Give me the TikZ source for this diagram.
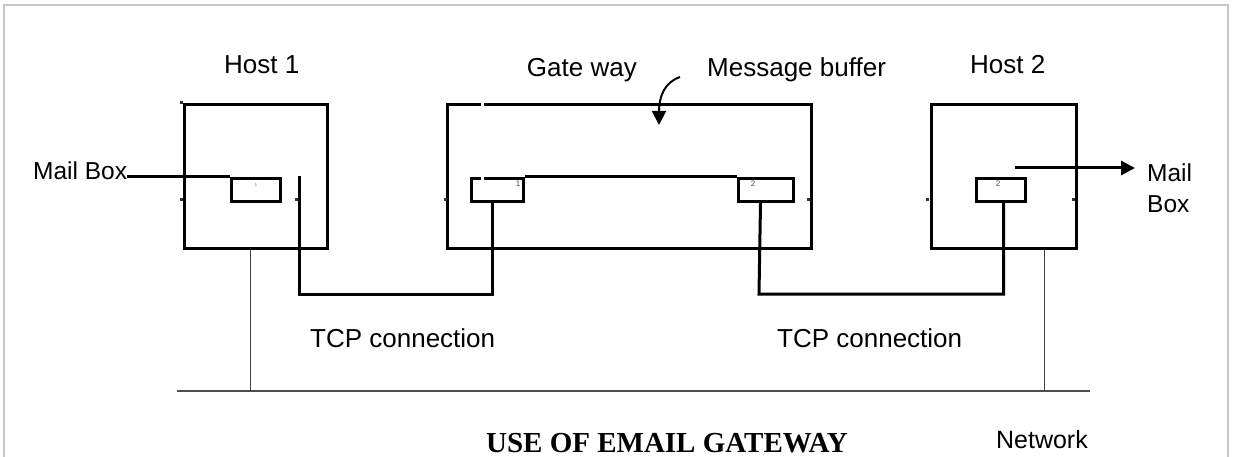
\documentclass[tikz,border=0pt]{standalone}
\usepackage{fontspec}
\setmainfont{Liberation Sans}
\newfontfamily\titlefont{Liberation Serif}
\usetikzlibrary{arrows.meta}
\begin{document}
\begin{tikzpicture}[x=1pt,y=-1pt,
  box/.style={draw,line width=3pt,inner sep=0pt},
  wire/.style={line width=3pt},
  lbl/.style={font=\fontsize{26}{30}\selectfont,inner sep=0pt},
  tiny/.style={font=\fontsize{8}{9}\selectfont,inner sep=0pt,text=black!70},
  net/.style={draw=black!75,line width=1.5pt},
  dot/.style={fill=black!80},
  tip/.style={-{Triangle[length=14pt,width=14pt]}}]
\useasboundingbox (0,0) rectangle (1234,457);
\fill[white] (0,0) rectangle (1234,457);
\draw[black!22,line width=2pt] (4,457) -- (4,5) -- (1228,5) -- (1228,457);

% boxes
\node[box,anchor=north west,minimum width=143pt,minimum height=144pt] (h1) at (183,103) {};
\node[box,anchor=north west,minimum width=364pt,minimum height=144pt] (gw) at (446,103) {};
\node[box,anchor=north west,minimum width=145pt,minimum height=144pt] (h2) at (930,103) {};

% small boxes
\node[box,anchor=north west,minimum width=49pt,minimum height=23pt] (m1) at (230,177) {};
\node[box,anchor=north west,minimum width=52pt,minimum height=23pt] (g1) at (470,177) {};
\node[box,anchor=north west,minimum width=55pt,minimum height=23pt] (g2) at (737,177) {};
\node[box,anchor=north west,minimum width=49pt,minimum height=23pt] (m2) at (975,177) {};
\node[tiny] (n1) at (256,185) {\fontsize{4}{4}\selectfont 1};
\node[tiny] (n2) at (518,184) {1};
\node[tiny] (n3) at (753,184) {2};
\node[tiny] (n4) at (998,184) {2};

% message buffer line between gateway ports
\draw[wire] (g1.north east) -- (g2.north west);
% small gaps in the gateway top lines
\fill[white] (481,99) rectangle (484,107);
\fill[white] (481,173) rectangle (484,181);

% labels
\node[lbl,anchor=base west] (host1) at (224,74) {Host 1};
\node[lbl,anchor=base east] (gate) at (637,77) {Gate way};
\node[lbl,anchor=base west] (msg) at (707,77) {Message buffer};
\node[lbl,anchor=base west] (host2) at (970,74) {Host 2};
\node[lbl,anchor=base west,font=\fontsize{24.5}{28}\selectfont] (mbl) at (33,180) {Mail Box};
\node[lbl,anchor=base west,font=\fontsize{24.5}{28}\selectfont] (mail) at (1147,182) {Mail};
\node[lbl,anchor=base west,font=\fontsize{24.5}{28}\selectfont] (box) at (1147,213) {Box};
\node[lbl,anchor=base west] (tcp1) at (310,347) {TCP connection};
\node[lbl,anchor=base west] (tcp2) at (777,347) {TCP connection};
\node[lbl,anchor=base east,font=\fontsize{25}{28}\selectfont] (netl) at (1088,448) {Network};
\node[inner sep=0pt,anchor=base,font=\titlefont\bfseries\fontsize{29}{32}\selectfont] (title) at (667,452) {USE OF EMAIL GATEWAY};

% mail box connector (host 1)
\draw[wire] (m1.north west) -- (m1.north west -| mbl.east);

% TCP connections
\coordinate (t1) at (299,176);
\draw[wire] (t1) -- (299,294) -| ([xshift=-5pt]g1.south);
\draw[wire] ([xshift=-5.5pt]g2.south) -- (759,294) -| ([xshift=2.5pt]m2.south);

% mail box arrow (host 2)
\coordinate (a0) at (1015,168);
\draw[wire,tip] (a0) -- ([xshift=-12pt]a0 -| mail.west);

% message buffer curved arrow
\coordinate (c0) at (680,77);
\coordinate (c1) at (659,125);
\draw[line width=2pt,tip] (c0) .. controls (665,82) and (659,96) .. (c1);

% network
\coordinate (nL) at (177,391);
\coordinate (nR) at (1090,391);
\draw[black!70,line width=2.5pt] (nL) -- (nR);
\draw[net] ([xshift=-5.5pt]h1.south) -- ([xshift=-5.5pt]h1.south |- nL);
\draw[net] ([xshift=40.5pt]h2.south) -- ([xshift=40.5pt]h2.south |- nL);

% small marks
\foreach \p in {(181,103),(181,200),(296,200),(445,200),(808,200),(927,200),(1073,200)}
  \fill[dot] \p ++(-1.5,-1.5) rectangle ++(3,3);
\end{tikzpicture}
\end{document}
